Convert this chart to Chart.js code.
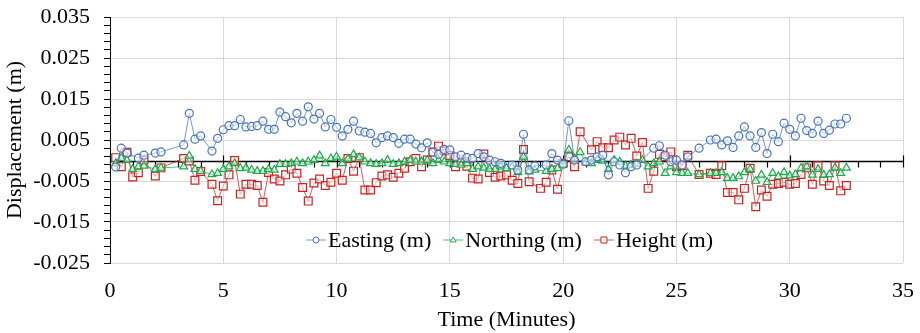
<!DOCTYPE html>
<html>
<head>
<meta charset="utf-8">
<script src="https://cdn.jsdelivr.net/npm/chart.js"></script>
<style>
  body { margin: 0; background: #fff; }
  #wrap { width: 920px; height: 333px; position: relative; }
</style>
</head>
<body>
<div id="wrap"><canvas id="chart"></canvas></div>
<script>
// time in minutes, displacement in metres
const eastT = [0.25, 0.5, 0.75, 1.25, 1.5, 2, 2.25, 3.25, 3.5, 3.75, 4, 4.5, 4.75, 5, 5.25, 5.5, 5.75,
  6, 6.25, 6.5, 6.75, 7, 7.25, 7.5, 7.75, 8, 8.25, 8.5, 8.75, 9, 9.25, 9.5, 9.75, 10, 10.25, 10.5, 10.75,
  11, 11.25, 11.5, 11.75, 12, 12.25, 12.5, 12.75, 13, 13.25, 13.5, 13.75, 14, 14.25, 14.5, 14.75,
  15, 15.25, 15.5, 15.75, 16, 16.25, 16.5, 16.75, 17, 17.25, 17.75, 18, 18.25, 18.5, 18.75, 19.25,
  19.5, 19.75, 20, 20.25, 20.5, 21, 21.25, 21.5, 21.75, 22, 22.25, 22.5, 22.75, 23, 23.25,
  24, 24.25, 24.5, 24.75, 25, 25.25, 25.5, 26, 26.5, 26.75, 27, 27.25, 27.5, 27.75, 28, 28.25, 28.5,
  28.75, 29, 29.25, 29.5, 29.75, 30, 30.25, 30.5, 30.75, 31, 31.25, 31.5, 31.75, 32, 32.25, 32.5];
const eastV = [-0.0016, 0.0030, 0.0018, 0.0006, 0.0013, 0.0018, 0.0021, 0.0038, 0.0115, 0.0052, 0.0060,
  0.0023, 0.0054, 0.0075, 0.0085, 0.0085, 0.0100, 0.0082, 0.0083, 0.0085, 0.0096, 0.0076, 0.0076,
  0.0118, 0.0107, 0.0092, 0.0115, 0.0096, 0.0131, 0.0101, 0.0115, 0.0082, 0.0100, 0.0081, 0.0060,
  0.0076, 0.0096, 0.0072, 0.0069, 0.0066, 0.0043, 0.0056, 0.0060, 0.0056, 0.0042, 0.0052, 0.0052,
  0.0040, 0.0031, 0.0043, 0.0020, 0.0015, 0.0027, 0.0026, 0.0009, 0.0013, 0.0007, 0.0005, 0.0017,
  0.0009, 0.0001, -0.0003, -0.0007, -0.0011, -0.0023, 0.0064, -0.0023, -0.0013, -0.0011, 0.0017,
  0.0001, -0.0009, 0.0097, 0.0001, -0.0003, 0.0001, 0.0009, 0.0013, -0.0035, -0.0003, -0.0011,
  -0.0030, -0.0015, -0.0011, 0.0030, 0.0036, 0.0013, -0.0003, 0.0001, -0.0011, 0.0009, 0.0030,
  0.0050, 0.0052, 0.0038, 0.0048, 0.0032, 0.0060, 0.0082, 0.0060, 0.0032, 0.0068, 0.0017, 0.0064,
  0.0046, 0.0091, 0.0076, 0.0060, 0.0103, 0.0073, 0.0066, 0.0096, 0.0066, 0.0074, 0.0089, 0.0089, 0.0103];

const northT = [0.25, 0.5, 0.75, 1, 1.25, 1.5, 2, 2.25, 3.25, 3.5, 3.75, 4, 4.5, 4.75, 5, 5.25, 5.5, 5.75,
  6, 6.25, 6.5, 6.75, 7, 7.25, 7.5, 7.75, 8, 8.25, 8.5, 8.75, 9, 9.25, 9.5, 9.75, 10, 10.25, 10.5, 10.75,
  11, 11.25, 11.5, 11.75, 12, 12.25, 12.5, 12.75, 13, 13.25, 13.5, 13.75, 14, 14.25, 14.5, 14.75,
  15, 15.25, 15.5, 15.75, 16, 16.25, 16.5, 16.75, 17, 17.25, 17.5, 17.75, 18, 18.25, 18.5, 18.75,
  19.25, 19.5, 19.75, 20, 20.25, 20.5, 20.75, 21, 21.25, 21.5, 21.75, 22, 22.25, 22.5, 22.75, 23,
  23.25, 23.5, 23.75, 24, 24.25, 24.5, 24.75, 25, 25.25, 25.5, 26, 26.5, 26.75, 27, 27.25, 27.5,
  27.75, 28, 28.25, 28.5, 28.75, 29, 29.25, 29.5, 29.75, 30, 30.25, 30.5, 30.75, 31, 31.25, 31.5,
  31.75, 32, 32.25, 32.5];
const northV = [-0.0007, 0.0006, 0.0001, -0.0021, -0.0015, -0.0013, -0.0021, -0.0018, -0.0015, 0.0011,
  -0.0021, -0.0026, -0.0034, -0.0031, -0.0021, -0.0015, -0.0007, -0.0019, -0.0018, -0.0023, -0.0026,
  -0.0026, -0.0021, -0.0023, -0.0009, -0.0009, -0.0007, -0.0003, -0.0007, -0.0003, 0.0001, 0.0012,
  -0.0007, 0.0005, 0.0009, -0.0007, 0.0004, 0.0015, 0.0007, -0.0003, -0.0007, -0.0009, -0.0007,
  0.0001, -0.0009, -0.0007, -0.0003, 0.0001, -0.0003, -0.0003, 0.0001, -0.0007, 0.0001, -0.0003,
  -0.0007, -0.0009, -0.0011, -0.0007, -0.0021, -0.0015, -0.0018, -0.0021, -0.0021, -0.0015, -0.0019,
  -0.0015, -0.0029, 0.0009, -0.0027, -0.0023, -0.0026, -0.0021, -0.0019, -0.0009, 0.0026, 0.0005,
  0.0020, -0.0005, -0.0007, 0.0001, -0.0001, -0.0021, 0.0001, -0.0003, -0.0013, -0.0011, -0.0008,
  0.0001, -0.0015, -0.0007, -0.0003, -0.0031, -0.0015, -0.0029, -0.0031, -0.0031, -0.0034, -0.0031,
  -0.0031, -0.0029, -0.0043, -0.0043, -0.0039, -0.0029, -0.0021, -0.0050, -0.0035, -0.0053, -0.0031,
  -0.0039, -0.0029, -0.0037, -0.0034, -0.0019, -0.0015, -0.0035, -0.0021, -0.0035, -0.0034, -0.0018,
  -0.0031, -0.0018];

const heightT = [0.25, 0.5, 0.75, 1, 1.25, 1.5, 2, 2.25, 3.25, 3.5, 3.75, 4, 4.5, 4.75, 5, 5.25, 5.5, 5.75,
  6, 6.25, 6.5, 6.75, 7, 7.25, 7.5, 7.75, 8, 8.25, 8.5, 8.75, 9, 9.25, 9.5, 9.75, 10, 10.25, 10.5, 10.75,
  11, 11.25, 11.5, 11.75, 12, 12.25, 12.5, 12.75, 13, 13.25, 13.5, 13.75, 14, 14.25, 14.5, 14.75,
  15, 15.25, 15.5, 15.75, 16, 16.25, 16.5, 16.75, 17, 17.25, 17.5, 17.75, 18, 18.25, 18.5, 19,
  19.25, 19.5, 19.75, 20, 20.25, 20.5, 20.75, 21.25, 21.5, 21.75, 22, 22.25, 22.5, 22.75, 23, 23.25,
  23.5, 23.75, 24, 24.25, 24.5, 24.75, 25, 25.25, 25.5, 26, 26.5, 26.75, 27, 27.25, 27.5, 27.75, 28,
  28.25, 28.5, 28.75, 29, 29.25, 29.5, 29.75, 30, 30.25, 30.5, 30.75, 31, 31.25, 31.5, 31.75, 32,
  32.25, 32.5];
const heightV = [0.0007, -0.0015, 0.0020, -0.0040, -0.0030, 0.0001, -0.0038, -0.0018, 0.0005, -0.0001,
  -0.0048, -0.0027, -0.0058, -0.0098, -0.0062, -0.0035, 0.0000, -0.0082, -0.0058, -0.0058, -0.0061,
  -0.0102, -0.0029, -0.0045, -0.0050, -0.0035, -0.0021, -0.0031, -0.0066, -0.0099, -0.0055, -0.0045,
  -0.0061, -0.0053, -0.0031, -0.0048, 0.0005, -0.0026, 0.0007, -0.0072, -0.0072, -0.0054, -0.0038,
  -0.0035, -0.0041, -0.0031, -0.0019, -0.0003, 0.0005, -0.0015, 0.0001, 0.0021, 0.0035, 0.0023,
  0.0012, -0.0015, -0.0003, -0.0014, -0.0043, -0.0045, 0.0016, -0.0029, -0.0041, -0.0038, -0.0035,
  -0.0048, -0.0056, 0.0027, -0.0052, -0.0068, -0.0053, -0.0023, -0.0070, -0.0007, 0.0009, -0.0015,
  0.0070, 0.0026, 0.0046, 0.0031, 0.0031, 0.0050, 0.0057, 0.0038, 0.0054, 0.0011, 0.0044, -0.0068,
  -0.0026, 0.0015, 0.0009, 0.0021, -0.0015, -0.0013, 0.0013, -0.0034, -0.0031, -0.0034, -0.0013,
  -0.0078, -0.0078, -0.0096, -0.0068, -0.0019, -0.0113, -0.0072, -0.0087, -0.0058, -0.0056, -0.0053,
  -0.0058, -0.0056, -0.0034, -0.0018, -0.0058, -0.0013, -0.0050, -0.0061, -0.0013, -0.0074, -0.0061];

const xMin = 0, xMax = 35, xStep = 5;
const yMin = -0.025, yMax = 0.035, yMajor = 0.01, yMinor = 0.002;

const FONT = '"Liberation Serif", "Times New Roman", serif';

function pts(t, v) {
  return t.map((x, i) => ({ x: x, y: v[i] }));
}

function isMajor(v) {
  const k = (v - yMin) / yMajor;
  return Math.abs(k - Math.round(k)) < 1e-6;
}

// black axis through zero with the time tick marks
const zeroAxis = {
  id: 'zeroAxis',
  beforeDatasetsDraw(chart) {
    const { ctx, chartArea, scales } = chart;
    const y0 = Math.round(scales.y.getPixelForValue(0)) + 0.5;
    ctx.save();
    ctx.strokeStyle = '#000';
    ctx.lineWidth = 1.5;
    ctx.beginPath();
    ctx.moveTo(chartArea.left, y0);
    ctx.lineTo(chartArea.right, y0);
    ctx.stroke();
    ctx.lineWidth = 1.2;
    for (let t = xMin; t <= xMax; t++) {
      const x = Math.round(scales.x.getPixelForValue(t)) + 0.5;
      ctx.beginPath();
      if (t % xStep === 0) {
        ctx.moveTo(x, y0 - 6);
      } else {
        ctx.moveTo(x, y0);
      }
      ctx.lineTo(x, y0 + 6);
      ctx.stroke();
    }
    ctx.restore();
  }
};

function drawMarker(ctx, style, x, y, r) {
  ctx.beginPath();
  if (style === 'circle') {
    ctx.arc(x, y, r, 0, Math.PI * 2);
  } else if (style === 'triangle') {
    ctx.moveTo(x, y - r);
    ctx.lineTo(x + r * 0.95, y + r * 0.65);
    ctx.lineTo(x - r * 0.95, y + r * 0.65);
    ctx.closePath();
  } else {
    ctx.rect(x - r, y - r, r * 2, r * 2);
  }
  ctx.fillStyle = '#fff';
  ctx.fill();
  ctx.stroke();
}

// legend sits inside the plot, near the bottom
const innerLegend = {
  id: 'innerLegend',
  afterDraw(chart) {
    const { ctx, chartArea } = chart;
    const sets = chart.data.datasets;
    ctx.save();
    ctx.font = '22px ' + FONT;
    ctx.textBaseline = 'middle';
    const gap = 12, icon = 20;
    const widths = sets.map(d => icon + 2 + ctx.measureText(d.label).width);
    const total = widths.reduce((a, b) => a + b, 0) + gap * (sets.length - 1);
    let x = (chartArea.left + chartArea.right) / 2 - total / 2 + 3;
    const y = chartArea.bottom - 23;
    sets.forEach((d, i) => {
      ctx.strokeStyle = d.borderColor;
      ctx.lineWidth = 1;
      ctx.beginPath();
      ctx.moveTo(x, y);
      ctx.lineTo(x + icon, y);
      ctx.stroke();
      ctx.strokeStyle = d.pointBorderColor;
      drawMarker(ctx, d.pointStyle, x + icon / 2, y, 3);
      ctx.fillStyle = '#000';
      ctx.fillText(d.label, x + icon + 2, y + 1);
      x += widths[i] + gap;
    });
    ctx.restore();
  }
};

new Chart(document.getElementById('chart'), {
  type: 'line',
  data: {
    datasets: [
      {
        label: 'Easting (m)',
        data: pts(eastT, eastV),
        borderColor: 'rgba(68,114,196,0.75)',
        pointBorderColor: '#4472C4',
        pointBackgroundColor: 'rgba(255,255,255,0.5)',
        pointStyle: 'circle',
        pointRadius: 4,
        pointBorderWidth: 1.2,
        borderWidth: 1,
        tension: 0
      },
      {
        label: 'Northing (m)',
        data: pts(northT, northV),
        borderColor: 'rgba(0,176,80,0.75)',
        pointBorderColor: '#1FAA4A',
        pointBackgroundColor: 'rgba(255,255,255,0.5)',
        pointStyle: 'triangle',
        pointRadius: 4.5,
        pointBorderWidth: 1.2,
        borderWidth: 1,
        tension: 0
      },
      {
        label: 'Height (m)',
        data: pts(heightT, heightV),
        borderColor: 'rgba(204,34,34,0.75)',
        pointBorderColor: '#CC2222',
        pointBackgroundColor: 'rgba(255,255,255,0.5)',
        pointStyle: 'rect',
        pointRadius: 5.5,
        pointBorderWidth: 1.2,
        borderWidth: 1,
        tension: 0
      }
    ]
  },
  options: {
    responsive: true,
    maintainAspectRatio: false,
    animation: false,
    layout: { padding: { top: 17, right: 17, left: 0, bottom: 0 } },
    plugins: {
      legend: { display: false },
      tooltip: { enabled: false }
    },
    scales: {
      x: {
        type: 'linear',
        min: xMin,
        max: xMax,
        ticks: {
          stepSize: xStep,
          padding: 15,
          color: '#000',
          font: { family: FONT, size: 22 }
        },
        grid: { color: '#d9d9d9', drawTicks: false },
        border: { display: false },
        title: {
          display: true,
          text: 'Time (Minutes)',
          color: '#000',
          font: { family: FONT, size: 22 },
          padding: { top: 0, bottom: 0 }
        },
        afterFit(scale) {
          scale.height = 70;
          scale.paddingLeft = 0;
          scale.paddingRight = 0;
        }
      },
      y: {
        type: 'linear',
        min: yMin,
        max: yMax,
        afterBuildTicks(scale) {
          const n = Math.round((yMax - yMin) / yMinor);
          const list = [];
          for (let i = 0; i <= n; i++) {
            list.push({ value: Math.round((yMin + i * yMinor) * 10000) / 10000 });
          }
          scale.ticks = list;
        },
        ticks: {
          autoSkip: false,
          padding: 14,
          color: '#000',
          font: { family: FONT, size: 22 },
          callback: v => isMajor(v) ? v.toFixed(3) : ''
        },
        grid: {
          color: c => (c.tick && isMajor(c.tick.value)) ? '#d9d9d9' : 'rgba(0,0,0,0)',
          tickColor: '#000',
          tickLength: 6,
          tickWidth: 1
        },
        border: { display: true, color: '#000', width: 1 },
        title: {
          display: true,
          text: 'Displacement (m)',
          color: '#000',
          font: { family: FONT, size: 22 },
          padding: { top: 2, bottom: 4 }
        },
        afterFit(scale) {
          scale.width = 110;
          scale.paddingTop = 0;
          scale.paddingBottom = 0;
        }
      }
    }
  },
  plugins: [zeroAxis, innerLegend]
});
</script>
</body>
</html>
